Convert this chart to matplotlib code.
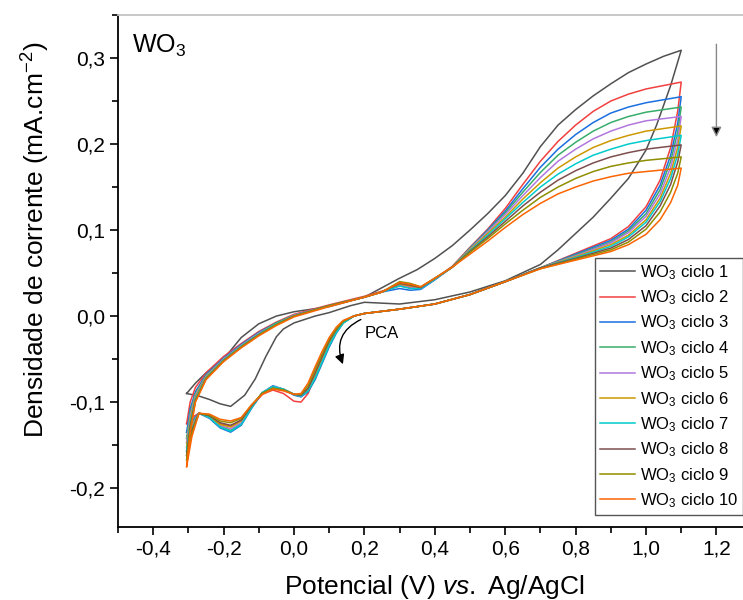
import matplotlib
matplotlib.use("Agg")
import matplotlib.pyplot as plt
from matplotlib.ticker import MultipleLocator, FuncFormatter

plt.rcParams["font.family"] = ["Liberation Sans", "DejaVu Sans"]
plt.rcParams["mathtext.fontset"] = "custom"
plt.rcParams["mathtext.rm"] = "Liberation Sans"
plt.rcParams["mathtext.it"] = "Liberation Sans:italic"
plt.rcParams["mathtext.bf"] = "Liberation Sans:bold"

# potential grid for cycles 2-10: anodic sweep then cathodic return
E_LOOP = [-0.305, -0.295, -0.28, -0.25, -0.2, -0.15, -0.1, -0.05, 0.0, 0.1, 0.2, 0.25,
          0.3, 0.33, 0.36, 0.4, 0.45, 0.5, 0.55, 0.6, 0.65, 0.7, 0.75, 0.8, 0.85, 0.9,
          0.95, 1.0, 1.1,
          1.09, 1.07, 1.04, 1.0, 0.95, 0.9, 0.8, 0.7, 0.6, 0.5, 0.4, 0.3, 0.2, 0.17,
          0.14, 0.12, 0.1, 0.08, 0.06, 0.04, 0.02, 0.0, -0.03, -0.06, -0.09, -0.12,
          -0.15, -0.18, -0.21, -0.24, -0.27, -0.29, -0.305]

j_c2 = [-0.125, -0.100, -0.083, -0.066, -0.047, -0.032, -0.018, -0.007, 0.002, 0.013, 0.023, 0.029,
        0.035, 0.033, 0.033, 0.043, 0.058, 0.080, 0.101, 0.125, 0.153, 0.180, 0.203, 0.222, 0.238, 0.250,
        0.258, 0.264, 0.272,
        0.238, 0.196, 0.158, 0.127, 0.104, 0.090, 0.073, 0.056, 0.040, 0.025, 0.014, 0.008, 0.003, 0.000,
        -0.007, -0.017, -0.031, -0.049, -0.070, -0.090, -0.100, -0.099, -0.090, -0.086, -0.091, -0.105,
        -0.121, -0.128, -0.125, -0.117, -0.113, -0.118, -0.125]
j_c3 = [-0.135, -0.108, -0.088, -0.068, -0.049, -0.033, -0.019, -0.008, 0.001, 0.012, 0.022, 0.028,
        0.032, 0.030, 0.031, 0.042, 0.057, 0.079, 0.100, 0.122, 0.148, 0.173, 0.194, 0.211, 0.225, 0.236,
        0.243, 0.248, 0.255,
        0.224, 0.187, 0.152, 0.123, 0.101, 0.088, 0.072, 0.056, 0.040, 0.025, 0.014, 0.008, 0.003, 0.000,
        -0.008, -0.020, -0.036, -0.055, -0.074, -0.088, -0.094, -0.092, -0.085, -0.081, -0.089, -0.107,
        -0.127, -0.135, -0.130, -0.119, -0.113, -0.122, -0.135]
j_c4 = [-0.142, -0.112, -0.090, -0.069, -0.050, -0.034, -0.020, -0.008, 0.001, 0.012, 0.022, 0.028,
        0.038, 0.036, 0.033, 0.043, 0.057, 0.079, 0.099, 0.120, 0.144, 0.167, 0.187, 0.202, 0.215, 0.225,
        0.232, 0.237, 0.243,
        0.214, 0.180, 0.147, 0.119, 0.099, 0.086, 0.071, 0.056, 0.040, 0.025, 0.014, 0.008, 0.003, 0.000,
        -0.008, -0.019, -0.034, -0.053, -0.072, -0.087, -0.093, -0.091, -0.085, -0.082, -0.089, -0.106,
        -0.125, -0.133, -0.128, -0.118, -0.113, -0.125, -0.142]
j_c5 = [-0.147, -0.116, -0.092, -0.070, -0.050, -0.034, -0.020, -0.009, 0.001, 0.012, 0.022, 0.028,
        0.036, 0.034, 0.032, 0.043, 0.057, 0.078, 0.098, 0.118, 0.140, 0.161, 0.180, 0.194, 0.206, 0.215,
        0.222, 0.227, 0.232,
        0.205, 0.173, 0.142, 0.116, 0.097, 0.085, 0.070, 0.056, 0.040, 0.025, 0.014, 0.008, 0.003, 0.000,
        -0.007, -0.018, -0.032, -0.051, -0.070, -0.086, -0.093, -0.091, -0.085, -0.082, -0.089, -0.105,
        -0.124, -0.131, -0.127, -0.118, -0.113, -0.127, -0.147]
j_c6 = [-0.152, -0.120, -0.094, -0.071, -0.051, -0.035, -0.021, -0.009, 0.000, 0.012, 0.022, 0.028,
        0.037, 0.035, 0.033, 0.043, 0.057, 0.077, 0.096, 0.115, 0.136, 0.155, 0.172, 0.185, 0.196, 0.204,
        0.210, 0.215, 0.221,
        0.196, 0.166, 0.137, 0.112, 0.094, 0.083, 0.069, 0.056, 0.040, 0.025, 0.014, 0.008, 0.003, 0.000,
        -0.007, -0.017, -0.031, -0.049, -0.068, -0.085, -0.092, -0.091, -0.085, -0.083, -0.089, -0.104,
        -0.122, -0.129, -0.126, -0.117, -0.113, -0.129, -0.152]
j_c7 = [-0.157, -0.124, -0.096, -0.072, -0.051, -0.035, -0.021, -0.009, 0.000, 0.012, 0.022, 0.028,
        0.035, 0.032, 0.032, 0.043, 0.057, 0.076, 0.094, 0.113, 0.132, 0.150, 0.165, 0.177, 0.187, 0.194,
        0.200, 0.204, 0.210,
        0.188, 0.160, 0.133, 0.109, 0.092, 0.081, 0.068, 0.056, 0.040, 0.025, 0.014, 0.008, 0.003, 0.000,
        -0.008, -0.019, -0.034, -0.053, -0.072, -0.087, -0.093, -0.091, -0.085, -0.082, -0.089, -0.106,
        -0.126, -0.134, -0.129, -0.118, -0.113, -0.131, -0.157]
j_c8 = [-0.162, -0.128, -0.098, -0.073, -0.052, -0.036, -0.022, -0.010, 0.000, 0.012, 0.022, 0.028,
        0.038, 0.036, 0.033, 0.044, 0.057, 0.075, 0.092, 0.110, 0.128, 0.144, 0.158, 0.169, 0.178, 0.185,
        0.190, 0.194, 0.199,
        0.179, 0.153, 0.128, 0.105, 0.089, 0.079, 0.067, 0.056, 0.040, 0.025, 0.014, 0.008, 0.003, 0.000,
        -0.006, -0.016, -0.029, -0.047, -0.066, -0.084, -0.092, -0.091, -0.086, -0.084, -0.090, -0.104,
        -0.121, -0.127, -0.124, -0.116, -0.113, -0.133, -0.162]
j_c9 = [-0.167, -0.132, -0.099, -0.073, -0.052, -0.036, -0.022, -0.010, 0.000, 0.012, 0.022, 0.028,
        0.040, 0.038, 0.034, 0.044, 0.057, 0.074, 0.090, 0.107, 0.123, 0.138, 0.150, 0.160, 0.168, 0.174,
        0.178, 0.181, 0.185,
        0.166, 0.144, 0.121, 0.101, 0.086, 0.077, 0.066, 0.055, 0.040, 0.025, 0.014, 0.008, 0.003, 0.000,
        -0.006, -0.015, -0.027, -0.044, -0.062, -0.081, -0.091, -0.091, -0.086, -0.084, -0.090, -0.103,
        -0.119, -0.124, -0.122, -0.115, -0.113, -0.136, -0.167]
j_c10 = [-0.175, -0.136, -0.100, -0.074, -0.053, -0.037, -0.023, -0.011, -0.001, 0.011, 0.022, 0.028,
         0.039, 0.037, 0.034, 0.044, 0.057, 0.072, 0.087, 0.103, 0.118, 0.131, 0.142, 0.150, 0.157, 0.162,
         0.166, 0.168, 0.172,
         0.152, 0.132, 0.112, 0.095, 0.083, 0.075, 0.065, 0.055, 0.040, 0.025, 0.014, 0.008, 0.003, 0.000,
         -0.005, -0.013, -0.025, -0.041, -0.059, -0.078, -0.090, -0.091, -0.087, -0.085, -0.091, -0.103,
         -0.118, -0.122, -0.120, -0.114, -0.113, -0.140, -0.175]

# first cycle has its own shape
E_C1 = [-0.305, -0.28, -0.25, -0.2, -0.15, -0.1, -0.05, 0.0, 0.1, 0.2, 0.3, 0.35, 0.4, 0.45, 0.5,
        0.55, 0.6, 0.65, 0.7, 0.75, 0.8, 0.85, 0.9, 0.95, 1.0, 1.05, 1.1,
        1.07, 1.03, 1.0, 0.95, 0.9, 0.85, 0.8, 0.75, 0.7, 0.6, 0.5, 0.4, 0.3, 0.2, 0.16, 0.1,
        0.06, 0.0, -0.03, -0.05, -0.08, -0.11, -0.14, -0.18, -0.21, -0.24, -0.27, -0.305]
j_c1 = [-0.090, -0.078, -0.066, -0.050, -0.025, -0.009, 0.000, 0.005, 0.011, 0.022, 0.044, 0.054,
        0.067, 0.082, 0.100, 0.119, 0.140, 0.166, 0.197, 0.222, 0.240, 0.256, 0.270, 0.283, 0.293,
        0.302, 0.309,
        0.268, 0.222, 0.193, 0.160, 0.137, 0.115, 0.096, 0.077, 0.060, 0.041, 0.028, 0.019, 0.014,
        0.016, 0.012, 0.004, 0.000, -0.008, -0.015, -0.024, -0.047, -0.073, -0.092, -0.105, -0.102,
        -0.097, -0.093, -0.090]

LABELS = ["WO$_3$ ciclo %d" % i for i in range(1, 11)]
COLORS = ["#515151", "#F14040", "#1A6FDF", "#37AD6B", "#B177DE",
          "#CC9900", "#00CBCC", "#7D4E4E", "#8E8E00", "#FB6501"]

fig = plt.figure(figsize=(7.43, 6.0), dpi=100)
ax = fig.add_axes([0.1588, 0.122, 0.8528, 0.853])

curves = [(E_C1, j_c1)] + [(E_LOOP, j) for j in
                           [j_c2, j_c3, j_c4, j_c5, j_c6, j_c7, j_c8, j_c9, j_c10]]
for (e, j), lab, col in zip(curves, LABELS, COLORS):
    ax.plot(e, j, color=col, lw=1.1, label=lab, solid_joinstyle="round")

ax.set_xlim(-0.5, 1.3)
ax.set_ylim(-0.245, 0.35)
ax.xaxis.set_major_locator(MultipleLocator(0.2))
ax.xaxis.set_minor_locator(MultipleLocator(0.1))
ax.yaxis.set_major_locator(MultipleLocator(0.1))
ax.yaxis.set_minor_locator(MultipleLocator(0.05))
comma = FuncFormatter(lambda v, p: ("%.1f" % v).replace(".", ",").replace("-0,0", "0,0"))
ax.xaxis.set_major_formatter(comma)
ax.yaxis.set_major_formatter(comma)
ax.tick_params(which="both", direction="out", width=1.2, labelsize=15)
ax.tick_params(which="major", length=6)
ax.tick_params(which="minor", length=4)
ax.tick_params(top=False, right=False)
for s in ["left", "bottom"]:
    ax.spines[s].set_linewidth(1.3)
ax.spines["right"].set_visible(False)
ax.spines["top"].set_color("#c4c4c4")
ax.spines["top"].set_linewidth(1.3)

ax.set_xlabel("Potencial (V) $\\mathit{vs.}$ Ag/AgCl", fontsize=19, labelpad=10)
ax.set_ylabel("Densidade de corrente (mA.cm$^{-2}$)", fontsize=19)
ax.yaxis.set_label_coords(-0.104, 0.56)

ax.text(0.022, 0.965, "WO$_3$", transform=ax.transAxes, fontsize=18, va="top", ha="left")

# scan direction arrows
ax.annotate("", xy=(1.2, 0.208), xytext=(1.2, 0.316),
            arrowprops=dict(arrowstyle="-|>", ec="#888888", fc="black", lw=1.0,
                            mutation_scale=15, shrinkA=0, shrinkB=0))
ax.annotate("", xy=(0.139, -0.056), xytext=(0.19, -0.004),
            arrowprops=dict(arrowstyle="-|>", color="black", lw=1.0, mutation_scale=14,
                            connectionstyle="arc3,rad=0.45", shrinkA=0, shrinkB=0))
ax.text(0.2, -0.02, "PCA", fontsize=12, ha="left", va="center")

leg = ax.legend(loc="upper left", bbox_to_anchor=(595 / 743, 1 - 258 / 600),
                bbox_transform=fig.transFigure, fontsize=12, frameon=True,
                fancybox=False, edgecolor="#555555", framealpha=1,
                handlelength=2.1, handletextpad=0.3, labelspacing=0.4,
                borderaxespad=0, borderpad=0.3)
leg.get_frame().set_linewidth(1.0)

fig.savefig("out.png", dpi=100)
